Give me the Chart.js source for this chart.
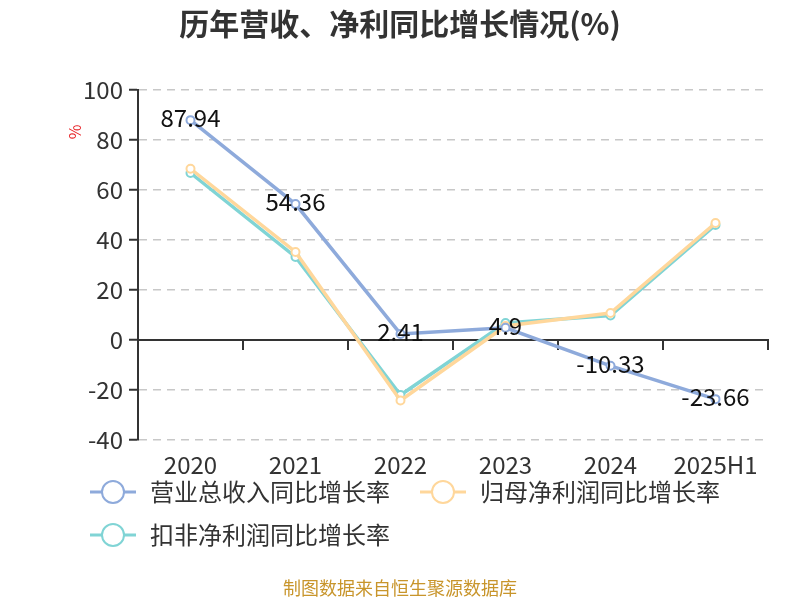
<!DOCTYPE html>
<html>
<head>
<meta charset="utf-8">
<script src="https://cdn.jsdelivr.net/npm/chart.js@4/dist/chart.umd.min.js"></script>
<style>
  html, body { margin: 0; padding: 0; background: #fff; }
  #wrap { width: 800px; height: 600px; position: relative; }
</style>
</head>
<body>
<div id="wrap"><canvas id="myChart" width="800" height="600"></canvas></div>
<script>
const categories = ['2020', '2021', '2022', '2023', '2024', '2025H1'];
const revenueGrowth = [87.94, 54.36, 2.41, 4.9, -10.33, -23.66];
const netProfitGrowth = [68.5, 35.2, -24.2, 5.6, 10.8, 46.8];
const deductedProfitGrowth = [66.8, 33.2, -22.0, 6.8, 9.8, 46.0];
const yTicks = [-40, -20, 0, 20, 40, 60, 80, 100];

const seriesNames = ['营业总收入同比增长率', '归母净利润同比增长率', '扣非净利润同比增长率'];
const seriesColors = ['#8eaadb', '#ffd79b', '#80d4d5'];
const FONT = '"Noto Sans CJK SC", "Noto Sans", sans-serif';

function lineSet(label, data, color) {
  return {
    label: label,
    data: data,
    borderColor: color,
    backgroundColor: '#fff',
    borderWidth: 3.5,
    pointRadius: 4,
    pointBorderWidth: 2,
    pointBackgroundColor: '#fff',
    pointBorderColor: color,
    tension: 0
  };
}

// title, % label, value labels, legend, footer
const decorPlugin = {
  id: 'decorPlugin',
  afterDatasetsDraw(chart) {
    const { ctx } = chart;
    ctx.save();

    // value labels on the revenue line
    const meta = chart.getDatasetMeta(0);
    ctx.fillStyle = '#111';
    ctx.font = '24px ' + FONT;
    ctx.textAlign = 'center';
    ctx.textBaseline = 'middle';
    meta.data.forEach((pt, i) => {
      ctx.fillText(String(revenueGrowth[i]), pt.x, pt.y - 2);
    });
    ctx.restore();
  },
  afterDraw(chart) {
    const { ctx } = chart;
    ctx.save();

    ctx.fillStyle = '#333';
    ctx.font = 'bold 30px ' + FONT;
    ctx.textAlign = 'center';
    ctx.textBaseline = 'middle';
    ctx.fillText('历年营收、净利同比增长情况(%)', 400, 24);

    // unit label
    ctx.save();
    ctx.translate(75, 132);
    ctx.rotate(-Math.PI / 2);
    ctx.fillStyle = '#e8262a';
    ctx.font = '16px ' + FONT;
    ctx.fillText('%', 0, 0);
    ctx.restore();

    // legend
    const items = [
      { x: 90, y: 492 },
      { x: 420, y: 492 },
      { x: 90, y: 535 }
    ];
    items.forEach((it, i) => {
      ctx.strokeStyle = seriesColors[i];
      ctx.lineWidth = 3;
      ctx.beginPath();
      ctx.moveTo(it.x, it.y);
      ctx.lineTo(it.x + 46, it.y);
      ctx.stroke();
      ctx.beginPath();
      ctx.arc(it.x + 23, it.y, 11, 0, Math.PI * 2);
      ctx.fillStyle = '#fff';
      ctx.fill();
      ctx.lineWidth = 2;
      ctx.stroke();
      ctx.fillStyle = '#333';
      ctx.font = '24px ' + FONT;
      ctx.textAlign = 'left';
      ctx.fillText(seriesNames[i], it.x + 60, it.y);
    });

    ctx.fillStyle = '#c8952b';
    ctx.font = '18px ' + FONT;
    ctx.textAlign = 'center';
    ctx.fillText('制图数据来自恒生聚源数据库', 400, 588);
    ctx.restore();
  }
};

new Chart(document.getElementById('myChart'), {
  type: 'line',
  data: {
    labels: categories,
    datasets: [
      lineSet(seriesNames[0], revenueGrowth, seriesColors[0]),
      lineSet(seriesNames[1], netProfitGrowth, seriesColors[1]),
      lineSet(seriesNames[2], deductedProfitGrowth, seriesColors[2])
    ]
  },
  options: {
    responsive: false,
    animation: false,
    layout: {
      padding: { top: 90, left: 0, right: 32, bottom: 0 }
    },
    plugins: {
      legend: { display: false },
      title: { display: false },
      tooltip: { enabled: false }
    },
    scales: {
      x: {
        offset: true,
        grid: { display: false, drawTicks: false },
        border: { display: false },
        ticks: {
          color: '#333',
          padding: 10,
          maxRotation: 0,
          font: { size: 24, family: FONT }
        },
        afterFit(scale) { scale.height = 160; }
      },
      xZero: {
        type: 'category',
        labels: categories,
        position: { y: 0 },
        offset: true,
        grid: {
          offset: true,
          drawOnChartArea: false,
          drawTicks: true,
          tickLength: 9,
          color: '#333',
          lineWidth: 2
        },
        border: { display: true, color: '#333', width: 2 },
        ticks: { display: false }
      },
      y: {
        min: -40,
        max: 100,
        afterBuildTicks(scale) {
          scale.ticks = yTicks.map(v => ({ value: v }));
        },
        grid: {
          color: (c) => (c.tick && c.tick.value === 0) ? 'rgba(0,0,0,0)' : '#c8c8c8',
          lineWidth: 1.5,
          tickColor: '#333',
          tickLength: 9,
          tickWidth: 2
        },
        border: { display: true, color: '#333', width: 2, dash: [8, 6] },
        ticks: {
          color: '#333',
          padding: 6,
          font: { size: 24, family: FONT }
        },
        afterFit(scale) { scale.width = 138; }
      }
    }
  },
  plugins: [decorPlugin]
});
</script>
</body>
</html>
